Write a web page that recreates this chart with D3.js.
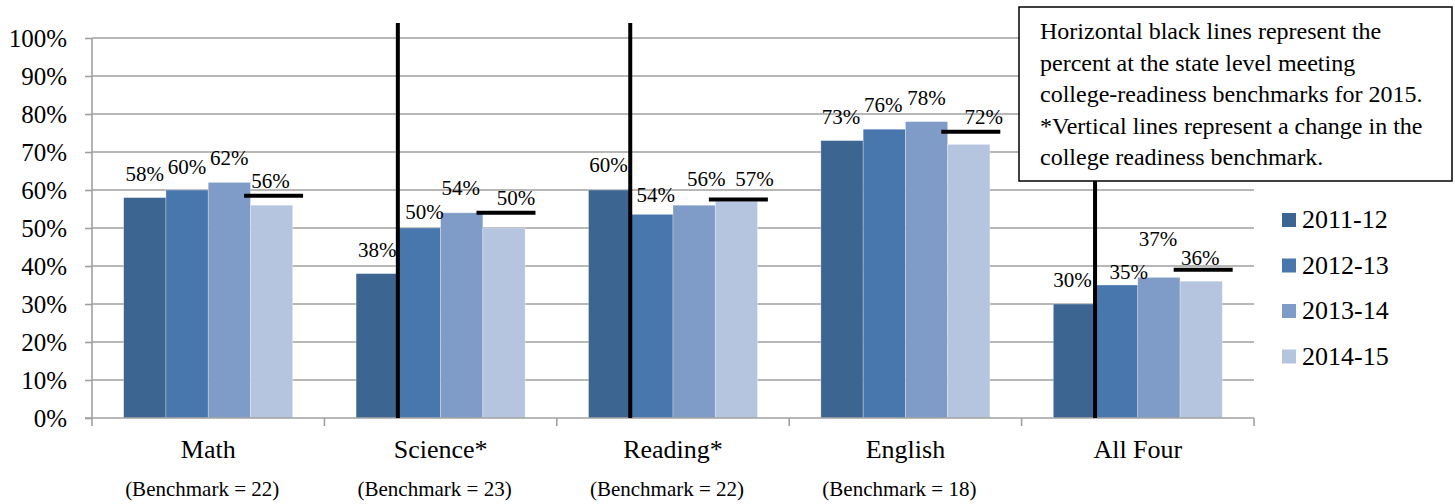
<!DOCTYPE html>
<html>
<head>
<meta charset="utf-8">
<script src="https://cdn.jsdelivr.net/npm/d3@7"></script>
<style>
  html, body { margin: 0; padding: 0; background: #fff; }
  svg { display: block; }
  svg text { font-family: "Liberation Serif", "Times New Roman", serif; fill: #000; }
</style>
</head>
<body>
<svg id="chart" width="1455" height="504"></svg>
<script>
// ---- data ----
const categories = ["Math", "Science*", "Reading*", "English", "All Four"];
const series = ["2011-12", "2012-13", "2013-14", "2014-15"];
const values2011 = [58, 38, 60, 73, 30];
const values2012 = [60, 50, 53.6, 76, 35];
const values2013 = [62, 54, 56, 78, 37];
const values2014 = [56, 50, 57, 72, 36];
const stateLevel2015 = [58.5, 54, 57.5, 75.3, 39];
const benchmarkLabels = ["(Benchmark = 22)", "(Benchmark = 23)", "(Benchmark = 22)", "(Benchmark = 18)", ""];
const benchmarkChanged = [false, true, true, false, true];
const yTicks = [0, 10, 20, 30, 40, 50, 60, 70, 80, 90, 100];
const noteLines = [
  "Horizontal black lines represent the",
  "percent at the state level meeting",
  "college-readiness benchmarks for 2015.",
  "*Vertical lines represent a change in the",
  "college readiness benchmark."
];

// ---- layout / style (not data) ----
const colors = ["#3c6592", "#4877ae", "#7f9bc7", "#b5c4df"];
const labelNudge = [
  [[0,0],[0,1],[0,0],[-1,0]],
  [[0,0],[5,8],[-1,-1],[12,-6]],
  [[-1,-1],[4,5],[12,-2],[18,2]],
  [[-1,0],[-1,0],[0,0],[15,-3]],
  [[-2,0],[12,11],[-1,-14],[-1,1]]
];
const allValues = [values2011, values2012, values2013, values2014];

(function draw() {
const svg = d3.select("#chart");
const pLeft = 92, pRight = 1254, pTop = 38, pBottom = 418;

const y = d3.scaleLinear().domain([0, 100]).range([pBottom, pTop]);
const x0 = d3.scaleBand().domain(categories).range([pLeft, pRight]).paddingInner(0).paddingOuter(0);
const bw = x0.bandwidth();
const barW = bw / 5.5;
const x1 = d3.scaleBand().domain(series).range([barW * 0.75, bw - barW * 0.75]).padding(0);

// gridlines
svg.append("g").selectAll("line").data(yTicks.filter(d => d > 0)).join("line")
  .attr("x1", pLeft).attr("x2", pRight)
  .attr("y1", d => y(d)).attr("y2", d => y(d))
  .attr("stroke", "#a0a0a0").attr("stroke-width", 1.6);

// y axis
const yAxis = d3.axisLeft(y).tickValues(yTicks).tickFormat(d => d + "%").tickSize(7).tickPadding(18);
const gy = svg.append("g").attr("transform", `translate(${pLeft},0)`).call(yAxis);
gy.attr("font-family", null);
gy.select(".domain").attr("stroke", "#a0a0a0").attr("stroke-width", 1.6).attr("d", `M0,${pTop}V${pBottom}`);
gy.selectAll(".tick line").attr("stroke", "#a0a0a0").attr("stroke-width", 1.6);
gy.selectAll(".tick text").attr("font-size", 25).attr("dy", "0.34em");

// bars
const groups = svg.append("g").selectAll("g").data(categories).join("g")
  .attr("transform", d => `translate(${x0(d)},0)`);
groups.selectAll("rect")
  .data((c, ci) => series.map((s, si) => ({ s, si, ci, v: allValues[si][ci] })))
  .join("rect")
  .attr("x", d => x1(d.s))
  .attr("width", x1.bandwidth())
  .attr("y", d => y(d.v))
  .attr("height", d => y(0) - y(d.v))
  .attr("fill", d => colors[d.si])
  .attr("stroke", "#ffffff").attr("stroke-width", 0.6).attr("stroke-opacity", 0.5);

// x axis
const xAxis = d3.axisBottom(x0).tickSize(0).tickPadding(0);
const gx = svg.append("g").attr("transform", `translate(0,${pBottom})`).call(xAxis);
gx.attr("font-family", null);
gx.select(".domain").attr("stroke", "#a0a0a0").attr("stroke-width", 1.6).attr("d", `M${pLeft - 7},0H${pRight}`);
gx.selectAll(".tick text").attr("font-size", 26).attr("dy", 0).attr("y", 40);
// category boundary ticks
const bounds = categories.map(c => x0(c)).concat([pRight]);
svg.append("g").selectAll("line").data(bounds).join("line")
  .attr("x1", d => d).attr("x2", d => d)
  .attr("y1", pBottom).attr("y2", pBottom + 8)
  .attr("stroke", "#a0a0a0").attr("stroke-width", 1.6);

// benchmark score labels
svg.append("g").selectAll("text").data(categories).join("text")
  .attr("x", c => x0(c) + bw / 2 - 6)
  .attr("y", 496)
  .attr("text-anchor", "middle")
  .attr("font-size", 21)
  .text((c, i) => benchmarkLabels[i]);

// state level horizontal lines
svg.append("g").selectAll("line").data(categories).join("line")
  .attr("x1", (c, i) => x0(c) + x1(series[3]) + x1.bandwidth() / 2 + 2 - 29.5)
  .attr("x2", (c, i) => x0(c) + x1(series[3]) + x1.bandwidth() / 2 + 2 + 29.5)
  .attr("y1", (c, i) => y(stateLevel2015[i]))
  .attr("y2", (c, i) => y(stateLevel2015[i]))
  .attr("stroke", "#000").attr("stroke-width", 4);

// vertical lines for benchmark change
svg.append("g").selectAll("line").data(categories.filter((c, i) => benchmarkChanged[i])).join("line")
  .attr("x1", c => x0(c) + x1(series[1]) - 0.5)
  .attr("x2", c => x0(c) + x1(series[1]) - 0.5)
  .attr("y1", 23).attr("y2", pBottom)
  .attr("stroke", "#000").attr("stroke-width", 4);

// data labels
const lbl = svg.append("g");
categories.forEach((c, ci) => {
  series.forEach((s, si) => {
    const v = allValues[si][ci];
    const n = labelNudge[ci][si];
    lbl.append("text")
      .attr("x", x0(c) + x1(s) + x1.bandwidth() / 2 + n[0])
      .attr("y", y(v) - 17 + n[1])
      .attr("text-anchor", "middle")
      .attr("font-size", 21)
      .text(Math.round(v) + "%");
  });
});

// annotation box
const note = svg.append("g");
note.append("rect").attr("x", 1019).attr("y", 7).attr("width", 433).attr("height", 174)
  .attr("fill", "#fff").attr("stroke", "#000").attr("stroke-width", 1.5);
note.selectAll("text").data(noteLines).join("text")
  .attr("x", 1040).attr("y", (d, i) => 39 + i * 31.5)
  .attr("font-size", 24)
  .text(d => d);

// legend
const leg = svg.append("g").attr("transform", "translate(1282,213)");
const li = leg.selectAll("g").data(series).join("g").attr("transform", (d, i) => `translate(0,${i * 45.5})`);
li.append("rect").attr("width", 14).attr("height", 14).attr("fill", (d, i) => colors[i]);
li.append("text").attr("x", 20).attr("y", 15).attr("font-size", 26).text(d => d);
})();
</script>
</body>
</html>
